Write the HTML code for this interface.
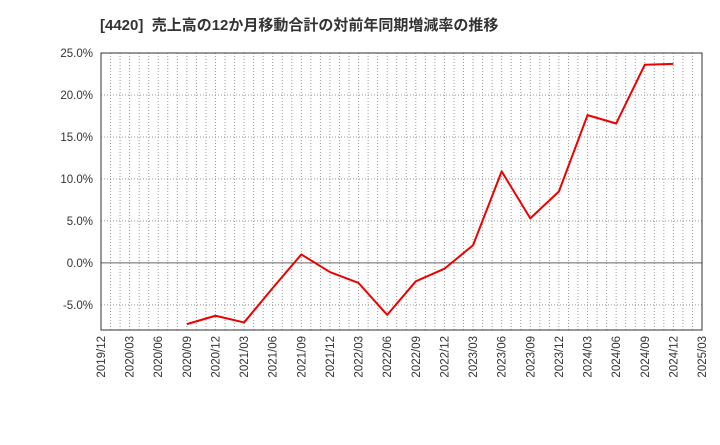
<!DOCTYPE html>
<html><head><meta charset="utf-8"><style>
body{margin:0;background:#fff;}
svg text{font-family:"Liberation Sans","Noto Sans CJK JP",sans-serif;}
</style></head><body>
<svg id="c" width="720" height="440" xmlns="http://www.w3.org/2000/svg">
<text x="100" y="30" font-size="15" font-weight="bold" fill="#333">[4420]&#160; 売上高の12か月移動合計の対前年同期増減率の推移</text>
<g id="grid"></g><g id="axes"></g><g id="series"></g>
</svg>
<script>
const xLabels=["2019/12","2020/03","2020/06","2020/09","2020/12","2021/03","2021/06","2021/09","2021/12","2022/03","2022/06","2022/09","2022/12","2023/03","2023/06","2023/09","2023/12","2024/03","2024/06","2024/09","2024/12","2025/03"];
const dataIdx=[3,4,5,6,7,8,9,10,11,12,13,14,15,16,17,18,19,20];
const values=[-7.3,-6.3,-7.1,-3.0,1.0,-1.1,-2.4,-6.2,-2.2,-0.7,2.1,10.9,5.3,8.5,17.6,16.6,23.6,23.7];
const yTicks=[-5,0,5,10,15,20,25];
const L=101,R=702,T=53,B=330,yMin=-8,yMax=25;
const NS="http://www.w3.org/2000/svg";
const x=i=>L+(R-L)*i/(xLabels.length-1);
const y=v=>T+(yMax-v)/(yMax-yMin)*(B-T);
function mk(t,a,p){const e=document.createElementNS(NS,t);for(const k in a)e.setAttribute(k,a[k]);p.appendChild(e);return e;}
const g=document.getElementById('grid'),ax=document.getElementById('axes'),s=document.getElementById('series');
for(let m=1;m<(xLabels.length-1)*3;m++){const xx=L+(R-L)*m/((xLabels.length-1)*3);
const l=mk('line',{x1:xx,x2:xx,y1:T,y2:B,stroke:'#999','stroke-dasharray':'1,2','stroke-width':1},g);

}
yTicks.forEach(v=>{const yy=y(v);
const l=mk('line',{x1:L,x2:R,y1:yy,y2:yy,stroke:v===0?'#666':'#999','stroke-dasharray':v===0?'none':'1,2','stroke-width':1},g);


const t=mk('text',{x:L-8,y:yy+4,'text-anchor':'end','font-size':11.5,fill:'#333'},ax);t.textContent=v.toFixed(1)+'%';

});
const fr=mk('rect',{x:L,y:T,width:R-L,height:B-T,fill:'none',stroke:'#333'},ax);


xLabels.forEach((lb,i)=>{const xx=x(i);
const t=mk('text',{x:xx+4,y:B+6,'text-anchor':'end','font-size':11.5,fill:'#333',transform:`rotate(-90 ${xx+4} ${B+6})`},ax);t.textContent=lb;

});
const pts=values.map((v,k)=>x(dataIdx[k])+','+y(v)).join(' ');
const pl=mk('polyline',{points:pts,fill:'none',stroke:'#e00','stroke-width':2,'stroke-linejoin':'round'},s);


</script>
</body></html>
